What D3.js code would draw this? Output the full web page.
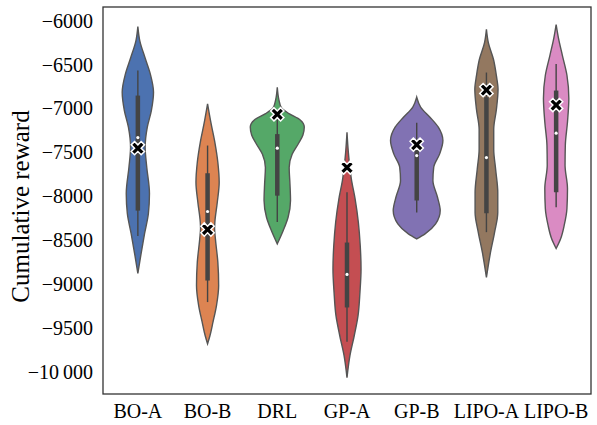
<!DOCTYPE html>
<html>
<head>
<meta charset="utf-8">
<script src="https://cdn.jsdelivr.net/npm/d3@7"></script>
<style>
  html, body { margin: 0; padding: 0; background: #fff; }
  svg { display: block; }
  text { font-family: "Liberation Serif", "Times New Roman", serif; }
</style>
</head>
<body>
<svg id="chart" width="597" height="425"></svg>
<script>
// ---------- data ----------
const categories = ["BO-A", "BO-B", "DRL", "GP-A", "GP-B", "LIPO-A", "LIPO-B"];
const colors = ["#4C72B0", "#DD8452", "#55A868", "#C44E52", "#8172B3", "#937860", "#DA8BC3"];
const yTicks = [-10000, -9500, -9000, -8500, -8000, -7500, -7000, -6500, -6000];

// violin profiles: [value, relative density]
const profileBOA = [[-6068,0],[-6227,0.07],[-6417,0.26],[-6606,0.46],[-6815,0.58],[-7023,0.5],[-7212,0.35],[-7440,0.27],[-7667,0.33],[-7966,0.43],[-8193,0.39],[-8420,0.25],[-8648,0.12],[-8875,0]];
const profileBOB = [[-6947,0],[-7155,0.12],[-7383,0.27],[-7610,0.38],[-7837,0.43],[-8065,0.36],[-8292,0.27],[-8364,0.26],[-8481,0.29],[-8746,0.38],[-9011,0.41],[-9239,0.33],[-9428,0.2],[-9580,0.09],[-9674,0]];
const profileDRL = [[-6758,0],[-6900,0.06],[-6990,0.15],[-7060,0.45],[-7130,0.85],[-7210,1.0],[-7300,0.95],[-7400,0.78],[-7520,0.55],[-7670,0.44],[-7860,0.47],[-8045,0.49],[-8235,0.4],[-8386,0.22],[-8538,0]];
const profileGPA = [[-7269,0],[-7496,0.05],[-7650,0.1],[-7799,0.16],[-8026,0.3],[-8292,0.42],[-8557,0.49],[-8822,0.52],[-9087,0.48],[-9352,0.41],[-9580,0.27],[-9807,0.11],[-10060,0]];
const profileGPB = [[-6871,0],[-6985,0.15],[-7098,0.49],[-7212,0.8],[-7364,0.97],[-7515,0.85],[-7667,0.63],[-7818,0.6],[-8008,0.77],[-8159,0.87],[-8311,0.7],[-8424,0.31],[-8481,0]];
const profileLIPOA = [[-6098,0],[-6250,0.07],[-6439,0.26],[-6629,0.37],[-6780,0.43],[-7008,0.37],[-7235,0.27],[-7462,0.27],[-7689,0.34],[-7955,0.42],[-8182,0.42],[-8409,0.3],[-8636,0.15],[-8920,0]];
const profileLIPOB = [[-6045,0],[-6205,0.09],[-6394,0.23],[-6621,0.4],[-6886,0.47],[-7152,0.42],[-7417,0.34],[-7644,0.33],[-7909,0.42],[-8136,0.4],[-8326,0.3],[-8477,0.17],[-8591,0]];
const profiles = [profileBOA, profileBOB, profileDRL, profileGPA, profileGPB, profileLIPOA, profileLIPOB];

// inner box statistics
const whiskerHigh = [-6568, -7420, -7060, -7950, -7160, -6590, -6492];
const q3Values    = [-6852, -7735, -7290, -8523, -7364, -6870, -6795];
const medians     = [-7330, -8170, -7450, -8886, -7534, -7557, -7280];
const q1Values    = [-8160, -8955, -7990, -9261, -8045, -8190, -7951];
const whiskerLow  = [-8450, -9200, -8290, -9650, -8182, -8405, -8121];
// highlighted marker (X)
const markerValues = [-7450, -8375, -7065, -7670, -7410, -6790, -6960];

// ---------- layout ----------
const plotL = 103, plotR = 591, plotT = 7, plotB = 394;
const svg = d3.select("#chart");

const x = d3.scaleBand().domain(categories).range([plotL, plotR]).padding(0);
const y = d3.scaleLinear().domain([-10245, -5845]).range([plotB, plotT]);
const w = d3.scaleLinear().domain([0, 1]).range([0, 27]);

const fmt = v => {
  const a = Math.abs(v);
  const s = a >= 10000 ? d3.format(",")(a).replace(/,/g, "\u2009") : String(a);
  return (v < 0 ? "\u2212" : "") + s;
};

// violins
const area = d3.area()
  .y(d => y(d[0]))
  .curve(d3.curveMonotoneY);

const g = svg.append("g");
categories.forEach((c, i) => {
  const cx = x(c) + x.bandwidth() / 2;
  area.x0(d => cx - w(d[1])).x1(d => cx + w(d[1]));
  g.append("path")
    .attr("d", area(profiles[i]))
    .attr("fill", colors[i])
    .attr("stroke", "#555555")
    .attr("stroke-width", 1.4);
  g.append("line")
    .attr("x1", cx).attr("x2", cx)
    .attr("y1", y(whiskerHigh[i])).attr("y2", y(whiskerLow[i]))
    .attr("stroke", "#444444").attr("stroke-width", 1.4);
  g.append("line")
    .attr("x1", cx).attr("x2", cx)
    .attr("y1", y(q3Values[i])).attr("y2", y(q1Values[i]))
    .attr("stroke", "#444444").attr("stroke-width", 4.5);
  g.append("circle")
    .attr("cx", cx).attr("cy", y(medians[i])).attr("r", 1.6)
    .attr("fill", "#ffffff");
});

// X markers
const sym = d3.symbol().type(d3.symbolCross).size(110);
categories.forEach((c, i) => {
  const cx = x(c) + x.bandwidth() / 2;
  svg.append("path")
    .attr("d", sym())
    .attr("transform", `translate(${cx},${y(markerValues[i])}) rotate(45)`)
    .attr("fill", "#000")
    .attr("stroke", "#fff")
    .attr("stroke-width", 1.5);
});

// frame
svg.append("rect")
  .attr("x", plotL).attr("y", plotT)
  .attr("width", plotR - plotL).attr("height", plotB - plotT)
  .attr("fill", "none").attr("stroke", "#333").attr("stroke-width", 1.3);

// axes
const yAxis = d3.axisLeft(y).tickValues(yTicks).tickFormat(fmt).tickSize(0).tickPadding(10);
const ya = svg.append("g").attr("transform", `translate(${plotL},0)`).call(yAxis);
ya.select(".domain").remove();
ya.selectAll("text").attr("font-size", 20).attr("fill", "#000")
  .attr("font-family", "'Liberation Serif', 'Times New Roman', serif");

const xAxis = d3.axisBottom(x).tickSize(0).tickPadding(10);
const xa = svg.append("g").attr("transform", `translate(0,${plotB})`).call(xAxis);
xa.select(".domain").remove();
xa.selectAll("text").attr("font-size", 20).attr("fill", "#000")
  .attr("font-family", "'Liberation Serif', 'Times New Roman', serif");

// y label
svg.append("text")
  .attr("transform", `translate(29,${(plotT + plotB) / 2 + 6}) rotate(-90)`)
  .attr("text-anchor", "middle")
  .attr("font-size", 25)
  .attr("fill", "#000")
  .text("Cumulative reward");
</script>
</body>
</html>
